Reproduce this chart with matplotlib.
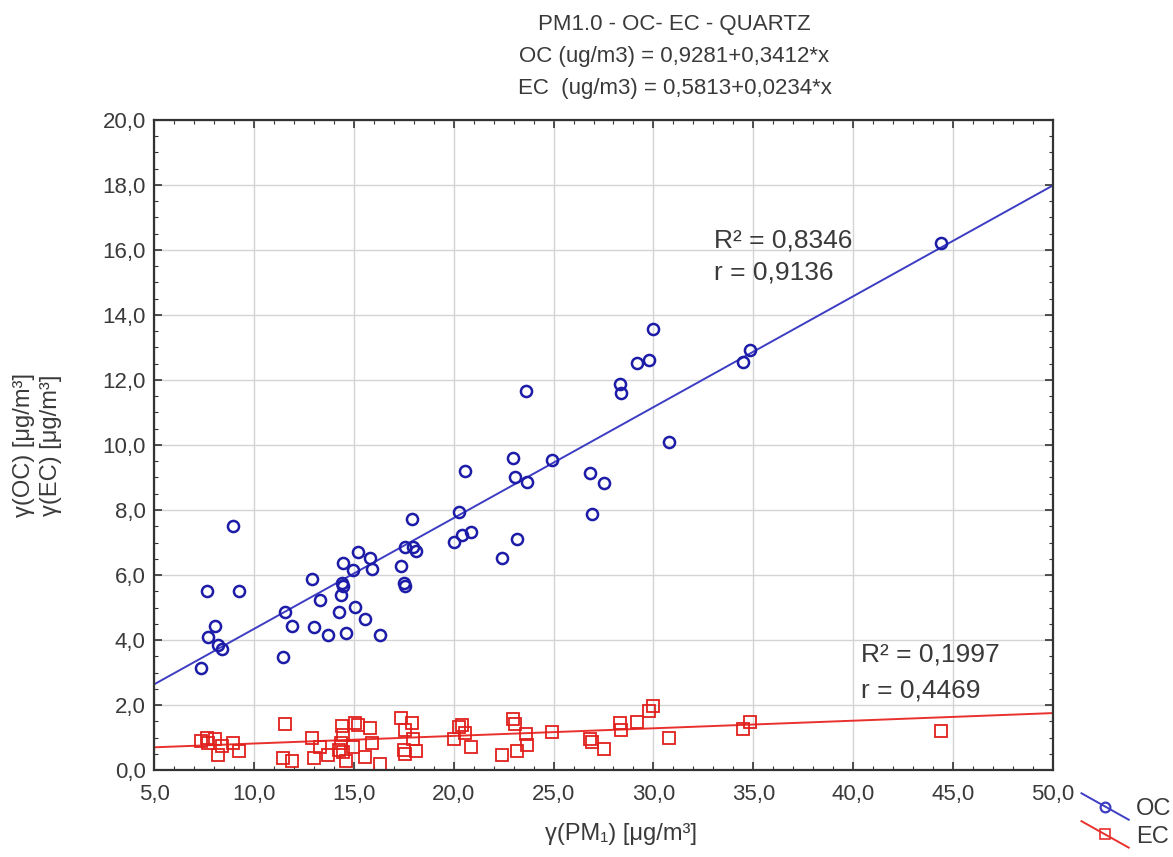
import matplotlib
matplotlib.use('Agg')
import matplotlib.pyplot as plt
from matplotlib.lines import Line2D
from matplotlib.legend_handler import HandlerBase
from matplotlib.ticker import MultipleLocator, FuncFormatter

plt.rcParams['font.family'] = ['Liberation Sans', 'DejaVu Sans']

# PM1 mass concentration (x) and OC / EC concentrations
pm1 = [7.34, 7.64, 7.69, 8.05, 8.22, 8.39, 8.97, 9.25, 11.47, 11.56, 11.89,
       12.92, 13.01, 13.31, 13.72, 14.28, 14.36, 14.39, 14.44, 14.44, 14.59,
       14.98, 15.06, 15.23, 15.56, 15.81, 15.93, 16.31, 17.35, 17.53, 17.56,
       17.56, 17.90, 17.98, 18.10, 20.03, 20.28, 20.40, 20.56, 20.85, 22.40,
       22.98, 23.07, 23.15, 23.62, 23.65, 24.90, 26.82, 26.94, 27.52, 28.32,
       28.36, 29.20, 29.80, 30.00, 30.80, 34.46, 34.83, 44.40]
oc = [3.13, 5.52, 4.10, 4.44, 3.85, 3.72, 7.52, 5.52, 3.49, 4.86, 4.44,
      5.87, 4.41, 5.23, 4.15, 4.85, 5.38, 5.74, 5.66, 6.36, 4.21,
      6.15, 5.03, 6.70, 4.64, 6.51, 6.17, 4.15, 6.29, 5.74, 5.67,
      6.87, 7.71, 6.87, 6.75, 7.03, 7.95, 7.23, 9.20, 7.33, 6.51,
      9.61, 9.00, 7.11, 11.67, 8.87, 9.54, 9.13, 7.88, 8.82, 11.87,
      11.59, 12.51, 12.63, 13.57, 10.08, 12.56, 12.92, 16.20]
ec = [0.90, 1.00, 0.82, 0.94, 0.46, 0.74, 0.84, 0.59, 0.36, 1.42, 0.28,
      1.00, 0.36, 0.70, 0.46, 0.63, 0.82, 1.35, 1.08, 0.56, 0.29,
      0.72, 1.44, 1.38, 0.41, 1.28, 0.82, 0.20, 1.59, 0.62, 0.49,
      1.23, 1.44, 0.94, 0.59, 0.94, 1.33, 1.38, 1.13, 0.72, 0.46,
      1.56, 1.43, 0.59, 1.11, 0.77, 1.18, 0.95, 0.87, 0.65, 1.44,
      1.23, 1.49, 1.83, 1.97, 1.00, 1.27, 1.48, 1.20]

# regression coefficients from the title
oc_a, oc_b = 0.9281, 0.3412
ec_a, ec_b = 0.5813, 0.0234
x_line = [5.0, 50.0]

txt = '#3a3a3a'

fig = plt.figure(figsize=(11.73, 8.57), dpi=100)
ax = fig.add_axes([0.1313, 0.1015, 0.7664, 0.7585])

ax.grid(True, color='#d4d4d4', lw=1.0)
ax.set_axisbelow(True)

line_oc, = ax.plot(x_line, [oc_a + oc_b * x for x in x_line], color='#3d3dc4', lw=1.4)
line_ec, = ax.plot(x_line, [ec_a + ec_b * x for x in x_line], color='#e8302c', lw=1.4)
ax.plot(pm1, oc, 'o', mfc='none', mec='#1c1ca8', ms=8, mew=1.8)
ax.plot(pm1, ec, 's', mfc='none', mec='#e0201c', ms=8, mew=1.3)

ax.set_xlim(5, 50)
ax.set_ylim(0, 20)
ax.xaxis.set_major_locator(MultipleLocator(5))
ax.xaxis.set_minor_locator(MultipleLocator(1))
ax.yaxis.set_major_locator(MultipleLocator(2))
ax.yaxis.set_minor_locator(MultipleLocator(0.5))
fmt = FuncFormatter(lambda v, p: ('%.1f' % v).replace('.', ','))
ax.xaxis.set_major_formatter(fmt)
ax.yaxis.set_major_formatter(fmt)
ax.tick_params(which='both', direction='in', top=True, right=True, colors='#333333',
               labelcolor=txt, labelsize=16)
ax.tick_params(which='major', length=6, width=1.2)
ax.tick_params(axis='x', which='major', pad=10)
ax.tick_params(axis='y', which='major', pad=6)
ax.tick_params(which='minor', length=3, width=0.8)
for s in ax.spines.values():
    s.set_color('#333333')
    s.set_linewidth(1.6)

ax.set_xlabel('γ(PM₁) [μg/m³]', fontsize=17, color=txt)
ax.xaxis.set_label_coords(0.52, -0.082)
ax.set_ylabel('γ(OC) [μg/m³]\nγ(EC) [μg/m³]', fontsize=17, color=txt, linespacing=1.3)
ax.yaxis.set_label_coords(-0.102, 0.5)

fig.text(0.575, 0.984, 'PM1.0 - OC- EC - QUARTZ\nOC (ug/m3) = 0,9281+0,3412*x\nEC  (ug/m3) = 0,5813+0,0234*x',
         ha='center', va='top', fontsize=16, color=txt, linespacing=1.7)

ax.text(33.05, 16.3, 'R² = 0,8346', fontsize=19, color=txt, va='center')
ax.text(33.05, 15.3, 'r = 0,9136', fontsize=19, color=txt, va='center')
ax.text(40.4, 3.55, 'R² = 0,1997', fontsize=19, color=txt, va='center')
ax.text(40.4, 2.45, 'r = 0,4469', fontsize=19, color=txt, va='center')


class DiagHandler(HandlerBase):
    def __init__(self, marker, mew, **kw):
        super().__init__(**kw)
        self.marker = marker
        self.mew = mew

    def create_artists(self, legend, orig_handle, xdescent, ydescent, width, height,
                       fontsize, trans):
        c = orig_handle.get_color()
        ln = Line2D([-xdescent, width - xdescent], [height * 1.3 - ydescent, -height * 0.3 - ydescent],
                    color=c, lw=1.4, transform=trans)
        mk = Line2D([width / 2 - xdescent], [height / 2 - ydescent], marker=self.marker,
                    mfc='none', mec=c, ms=7, mew=self.mew, ls='none', transform=trans)
        return [ln, mk]


fig.legend([line_oc, line_ec], ['OC', 'EC'], loc='center left', bbox_to_anchor=(0.922, 0.04),
           frameon=False, fontsize=17, handlelength=2.0, handletextpad=0.3, labelspacing=0.25,
           borderpad=0, borderaxespad=0, labelcolor=txt,
           handler_map={line_oc: DiagHandler('o', 1.6), line_ec: DiagHandler('s', 1.2)})

fig.savefig('out.png', dpi=100)
